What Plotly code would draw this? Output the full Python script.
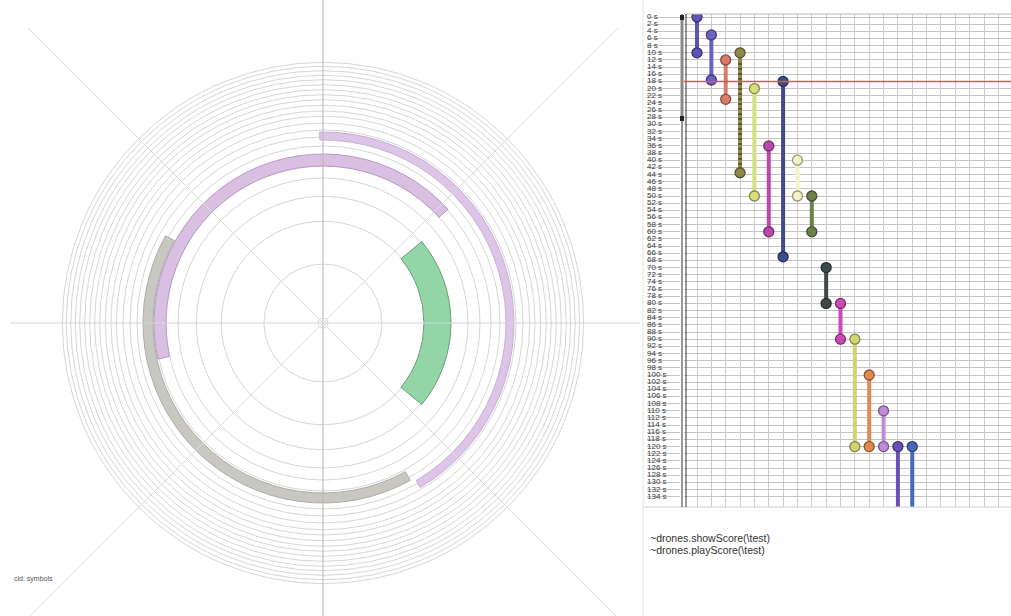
import plotly.graph_objects as go

W, H = 1011, 616

# ---------------- polar panel data ----------------
ring_radii = [5, 59, 101.7, 126.7, 145, 157, 168, 177, 186, 193, 200, 206.7, 212,
              217.7, 223.3, 228.3, 233.3, 238.3, 243.3, 247.7, 252.3, 256.7, 260.7]
arc_names = ["green", "grey", "purple inner", "purple outer"]
arc_theta_start = [-39.5, 151.0, 42.3, -59.4]
arc_theta_end = [39.5, 299.0, 192.3, 91.0]
arc_r_inner = [101, 170, 157, 183]
arc_r_outer = [128, 180, 169, 191]
arc_fill = ["#93d5a6", "#c9c7c1", "#d9c0e3", "#dcc5e6"]
arc_edge = ["#6a9c78", "#aeaca6", "#b59acb", "#c8aed6"]
corner_text = "cld: symbols"

# ---------------- score panel data ----------------
time_ticks = list(range(0, 136, 2))
time_labels = [f"{t} s" for t in time_ticks]
bar_column = [0, 1, 2, 3, 4, 6, 5, 7, 8, 9, 10, 11, 12, 13, 14, 15]
bar_start = [0, 5, 12, 10, 20, 18, 36, 40, 50, 70, 80, 90, 100, 110, 120, 120]
bar_end = [10, 17.6, 23, 43.5, 50, 67, 60, 50, 60, 80, 90, 120, 120, 120, 140, 140]
bar_color = ["#5b55b8", "#6a62c2", "#d97b68", "#8c894a", "#d3e07c", "#3f4b8d",
             "#b84aab", "#f3f3c6", "#6e8049", "#3f4949", "#c94bb5", "#d3d372",
             "#e08a52", "#c18bd8", "#6a50b8", "#4a68b8"]
bar_end_dot = [True] * 14 + [False, False]
playhead_time = 18
commands = ["~drones.showScore(\\test)", "~drones.playScore(\\test)"]


def darker(hexcol, f=0.62):
    h = hexcol.lstrip("#")
    r, g, b = (int(h[i:i + 2], 16) for i in (0, 2, 4))
    return "#%02x%02x%02x" % (int(r * f), int(g * f), int(b * f))


def px(x):
    return x / W


def py(y):
    return 1 - y / H


fig = go.Figure()

# ---- polar arcs ----
theta_c = [(a + b) / 2 for a, b in zip(arc_theta_start, arc_theta_end)]
widths = [b - a for a, b in zip(arc_theta_start, arc_theta_end)]
thick = [o - i for i, o in zip(arc_r_inner, arc_r_outer)]
fig.add_trace(go.Barpolar(
    theta=theta_c, width=widths, base=arc_r_inner, r=thick,
    marker=dict(color=arc_fill, line=dict(color=arc_edge, width=1), opacity=1),
    text=arc_names, hoverinfo="text", showlegend=False, subplot="polar",
))

CX, CY = 323, 323
RMAX = 262
fig.update_layout(
    polar=dict(
        domain=dict(x=[px(CX - RMAX), px(CX + RMAX)],
                    y=[py(CY + RMAX), py(CY - RMAX)]),
        bgcolor="rgba(0,0,0,0)",
        bargap=0,
        radialaxis=dict(range=[0, RMAX], tickvals=ring_radii, showticklabels=False,
                        ticks="", showline=False, gridcolor="#d6d6d6", gridwidth=1),
        angularaxis=dict(showgrid=False, showline=False, showticklabels=False,
                         ticks="", rotation=0, direction="counterclockwise"),
    )
)

# ---- score panel ----
for c, s, e, col, dot in zip(bar_column, bar_start, bar_end, bar_color, bar_end_dot):
    fig.add_trace(go.Scatter(
        x=[c, c], y=[s, e], mode="lines+markers", xaxis="x2", yaxis="y2",
        line=dict(color=col, width=4),
        marker=dict(size=[10, 10 if dot else 0], color=col, opacity=1,
                    line=dict(color=darker(col), width=1.3)),
        opacity=1, showlegend=False, hoverinfo="y",
    ))
# dark tick marks on the olive bar
fig.add_trace(go.Scatter(
    x=[bar_column[3], bar_column[3]], y=[bar_start[3] + 3, bar_end[3] - 2],
    mode="lines", xaxis="x2", yaxis="y2",
    line=dict(color="#2e2a12", width=4, dash="1px,4px"),
    showlegend=False, hoverinfo="skip",
))

# time labels (left aligned)
fig.add_trace(go.Scatter(
    x=[0] * len(time_ticks), y=time_ticks, text=time_labels, mode="text",
    textposition="middle right", xaxis="x3", yaxis="y2",
    textfont=dict(family="Liberation Sans", size=8, color="#3a3a3a"),
    showlegend=False, hoverinfo="skip", cliponaxis=False,
))

X0, X1 = 684, 1011
Y0, Y1 = 14, 507
col0, colw = 697, 14.35
t0, tpx = 17, 3.58
fig.update_layout(
    xaxis2=dict(domain=[px(X0), 1.0], anchor="y2",
                range=[(X0 - col0) / colw, (X1 - col0) / colw],
                tickvals=list(range(0, 22)), showticklabels=False, ticks="",
                showgrid=True, gridcolor="#cccccc", gridwidth=1, zeroline=False,
                showline=False),
    yaxis2=dict(domain=[py(Y1), py(Y0)], anchor="x2",
                range=[(Y1 - t0) / tpx, (Y0 - t0) / tpx],
                tickvals=time_ticks, showticklabels=False, ticks="",
                showgrid=True, gridcolor="#c4c4c4", gridwidth=1, zeroline=False,
                showline=False),
    xaxis3=dict(domain=[px(647), px(680)], anchor="y2", range=[0, 1],
                visible=False),
    xaxis=dict(visible=False), yaxis=dict(visible=False),
)

shapes = []
# spokes of the polar panel
spokes = [((10, 323), (640, 323), "#d4d4d4"),
          ((323, 0), (323, 616), "#b5b5b5"),
          ((28, 28), (620, 620), "#dcdcdc"),
          ((618, 28), (26, 620), "#dcdcdc")]
for (xa, ya), (xb, yb), c in spokes:
    shapes.append(dict(type="line", xref="paper", yref="paper",
                       x0=px(xa), y0=py(ya), x1=px(xb), y1=py(yb),
                       line=dict(color=c, width=1), layer="above"))
# panel separator and frames
shapes.append(dict(type="line", xref="paper", yref="paper", x0=px(643), x1=px(643),
                   y0=0, y1=1, line=dict(color="#e2e2e2", width=1)))
shapes.append(dict(type="line", xref="paper", yref="paper", x0=px(643), x1=1,
                   y0=py(Y1), y1=py(Y1), line=dict(color="#d0d0d0", width=1)))
shapes.append(dict(type="line", xref="paper", yref="paper", x0=px(X0), x1=1,
                   y0=py(Y0), y1=py(Y0), line=dict(color="#bbbbbb", width=1)))
for xx in (682, 686):
    shapes.append(dict(type="line", xref="paper", yref="paper", x0=px(xx), x1=px(xx),
                       y0=py(Y1), y1=py(Y0), line=dict(color="#333333", width=1)))
shapes.append(dict(type="rect", xref="paper", yref="paper", x0=px(680.5), x1=px(683.5),
                   y0=py(121), y1=py(15), fillcolor="#888888", line=dict(width=0)))
for yy in (15, 116):
    shapes.append(dict(type="rect", xref="paper", yref="paper", x0=px(680), x1=px(684),
                       y0=py(yy + 5), y1=py(yy), fillcolor="#222222", line=dict(width=0)))
# playhead
shapes.append(dict(type="line", xref="x2 domain", yref="y2", x0=0, x1=1,
                   y0=playhead_time, y1=playhead_time,
                   line=dict(color="#e0505a", width=1.5), layer="above"))

annotations = [
    dict(text=corner_text, xref="paper", yref="paper", x=px(12), y=py(579),
         xanchor="left", yanchor="middle", showarrow=False,
         font=dict(family="Liberation Sans", size=7, color="#555555")),
]
for i, cmd in enumerate(commands):
    annotations.append(dict(text=cmd, xref="paper", yref="paper", x=px(648),
                            y=py(538 + 12 * i), xanchor="left", yanchor="middle",
                            showarrow=False,
                            font=dict(family="Liberation Sans", size=10.5, color="#333333")))

fig.update_layout(
    width=W, height=H, margin=dict(l=0, r=0, t=0, b=0),
    paper_bgcolor="white", plot_bgcolor="white",
    shapes=shapes, annotations=annotations, showlegend=False,
)

fig.write_html("out.html", config={"displayModeBar": False},
               post_script="document.body.style.margin='0px';document.body.style.overflow='hidden';")
